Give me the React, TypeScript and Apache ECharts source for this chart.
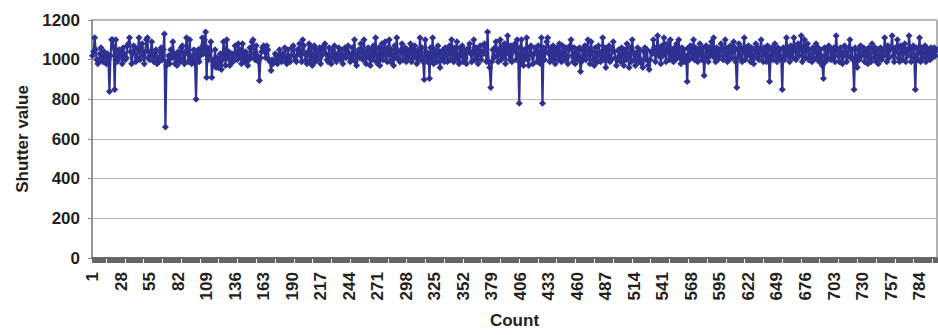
import React, { useEffect, useRef } from "react";
import * as echarts from "echarts";

const yTicks = [0, 200, 400, 600, 800, 1000, 1200];
const categoryCount = 800;
const categories: string[] = Array.from({ length: categoryCount }, (_, i) => String(i + 1));

const shutter1: number[] = [
  1020,1040,1110,1050,1000,980,990,1030,1060,1010,990,1040,1020,980,1030,1000,840,1020,1100,1100,
  1060,850,1100,990,1000,1050,1020,1040,980,1060,1030,1000,1010,1070,1080,1110,1040,980,1030,1070,
  1060,990,1010,1050,1110,1000,1060,1080,1020,980,1040,1100,1110,1010,1000,1040,1090,1020,990,1030,
  1050,980,1010,990,1040,1060,1000,1050,1130,660,970,990,1020,980,1050,1010,1090,1030,980,1020,
  970,1040,1010,990,1060,1070,1000,980,1040,1110,1030,990,1100,1000,980,1020,1050,990,800,1030,
  1050,990,1020,1060,1110,1030,1100,1140,910,1060,1000,1040,1090,910,1000,970,1050,960,1010,960,
  990,1030,950,1000,1090,1040,970,1100,1010,1040,970,990,1030,990,1020,1070,1030,1000,1080,1020,
  1050,980,1080,1010,990,1040,1020,970,1000,1060,1010,1090,1100,1030,1000,1070,1020,990,895,1010,
  1040,1060,1070,1040,1010,1070,1050,1000,990,945,1000,980,990,1030,1020,980,1010,1050,1000,990,
  1030,1000,1060,990,980,1050,1010,990,1020,1060,1070,1020,1000,990,1050,1040,1080,1020,990,1100,
];
const shutter2: number[] = [
  1070,1030,1000,980,1040,1080,990,1060,970,1020,1070,990,1050,1000,1030,1060,980,1020,1050,1070,
  1080,1030,1000,990,1060,1010,980,1050,1020,1070,1000,990,1030,1060,1010,1000,1050,980,1020,1060,
  1010,1040,1070,1030,990,1000,1060,1020,1100,990,970,1030,1050,1010,1080,1040,1000,1100,1030,980,
  1040,1060,1010,970,1050,1000,1070,1020,1110,990,980,1060,970,1040,1080,1000,1050,1090,1020,990,
  1060,1100,990,1050,1020,970,1070,1010,1110,1040,1000,990,1050,1080,1000,1030,1060,990,1050,1010,
  1040,1080,990,1060,1010,1070,1030,980,1050,1000,1110,1020,1060,990,900,1100,1040,990,1030,905,
  1060,1000,1110,980,1050,1020,990,1070,1040,960,1040,1000,1050,990,1060,1020,990,1050,1070,1000,
  1100,1030,990,1060,1010,1090,1000,980,1060,1020,1070,990,1050,1010,980,1040,1060,1080,1030,990,
  1040,1100,1000,1060,1020,980,1050,1070,1000,1040,1030,1080,1060,990,1140,990,960,860,990,1050,
  1010,1060,1090,1020,990,1050,1100,1000,1060,1020,1080,980,1040,1120,1030,1000,1070,990,1040,1060,
];
const shutter3: number[] = [
  1080,1000,1100,1020,780,1060,1100,990,970,1050,1010,1110,1000,970,1060,1070,1020,980,1030,1060,
  1040,990,1070,1010,980,1110,780,1060,1000,1040,1090,1110,1030,990,1060,1000,1070,1020,980,1050,
  1060,1000,1080,1020,990,1070,1030,1000,1060,1010,980,1050,1070,1100,1020,990,1060,980,1050,1010,
  1000,1060,940,990,1050,1010,1070,1000,1060,1100,1020,980,1090,1040,1000,970,1060,1020,990,1070,
  1040,990,1020,1110,1000,1060,960,1050,1010,1070,990,1000,1050,1090,1040,1010,970,1000,1050,1020,
  990,1060,1030,970,1050,1000,1080,1020,960,1060,990,1100,1040,1000,970,1030,1060,990,1050,1000,
  980,960,1040,1060,1000,1050,970,950,1000,1040,1030,1100,1060,990,1050,1120,1020,1060,980,1070,
  1020,1110,1040,990,1080,1060,1000,1100,1020,1050,990,1060,1000,1080,1030,1100,1010,980,1060,1000,
  1050,990,1020,890,1060,1000,1070,1040,1010,1100,1000,1060,1020,990,1050,1080,1020,1000,1060,920,
  1010,1070,1040,990,1060,1020,1090,1030,1110,1010,990,1060,1000,1050,1020,1080,1060,1000,1050,1100,
];
const shutter4: number[] = [
  1020,990,1060,1000,1070,1040,1010,1090,1060,990,860,1050,1080,1010,1060,990,1050,1110,1000,1060,
  1020,1070,1040,990,1060,1010,980,1050,1080,1010,1060,1000,1050,1100,1020,990,1060,1040,990,1070,
  1050,890,1010,1060,1000,1050,1080,1020,990,1060,1000,1050,1010,850,1060,1000,1050,1110,1020,1060,
  990,1070,1040,1010,1110,1060,1000,1050,1080,1020,1060,1120,990,1050,1100,1010,1060,1080,1000,1050,
  1020,990,1060,1000,1050,1080,1010,1060,990,1050,1020,970,905,1060,990,1050,1010,1070,1060,1000,
  1050,1010,1060,990,1120,1050,1020,990,1060,1040,980,1020,1070,1040,990,1020,1060,1100,1010,1050,
  1000,850,1060,1010,960,1050,1000,1070,1020,1050,1060,990,1030,1050,980,1060,1010,990,1080,1050,
  1010,1060,990,1050,980,1020,1060,1000,1050,1020,1110,1060,990,1070,1010,1050,1060,1120,1020,990,
  1060,1040,1100,1010,990,1070,1050,1000,1060,1080,990,1050,1020,1120,1060,990,1050,1070,1010,850,
  1060,1000,1050,1110,990,1060,1010,1050,1070,990,1060,1020,1050,1000,1060,1010,1050,1060,1020,1050,
];
const shutterValues: number[] = [...shutter1, ...shutter2, ...shutter3, ...shutter4];

const font = "'Liberation Sans', Arial, sans-serif";
const textColor = "#231f20";
const seriesColor = "#2E3192";

export default function App() {
  const ref = useRef<HTMLDivElement>(null);
  useEffect(() => {
    if (!ref.current) return;
    const chart = echarts.init(ref.current, null, { renderer: "svg" });
    chart.setOption({
      animation: false,
      backgroundColor: "#ffffff",
      grid: {
        left: 92,
        right: 1,
        top: 20,
        bottom: 77,
        show: true,
        borderColor: "#666",
        borderWidth: 1,
        outerBoundsMode: "none",
      },
      xAxis: {
        type: "category",
        data: categories,
        name: "Count",
        nameLocation: "middle",
        nameGap: 54,
        nameTextStyle: { fontFamily: font, fontWeight: "bold", fontSize: 17, color: textColor },
        axisLine: { lineStyle: { color: "#555", width: 1.5 } },
        axisTick: { show: true, interval: 0, length: 5, lineStyle: { color: "#666", width: 1 } },
        axisLabel: {
          interval: 26,
          rotate: 90,
          margin: 14,
          fontFamily: font,
          fontWeight: "bold",
          fontSize: 17,
          color: textColor,
        },
        splitLine: { show: false },
      },
      yAxis: {
        type: "value",
        min: yTicks[0],
        max: yTicks[yTicks.length - 1],
        interval: 200,
        name: "Shutter value",
        nameLocation: "middle",
        nameGap: 56,
        nameRotate: 90,
        nameTextStyle: { fontFamily: font, fontWeight: "bold", fontSize: 17, color: textColor },
        axisLine: { show: true, lineStyle: { color: "#888", width: 1.5 } },
        axisTick: { show: true, length: 4, lineStyle: { color: "#888" } },
        axisLabel: {
          fontFamily: font,
          fontWeight: "bold",
          fontSize: 17,
          color: textColor,
          margin: 12,
          formatter: (v: number) => String(v),
        },
        splitLine: { lineStyle: { color: "#bbb", width: 1 } },
      },
      series: [
        {
          type: "line",
          data: shutterValues,
          symbol: "diamond",
          symbolSize: 7,
          showAllSymbol: true,
          itemStyle: { color: seriesColor },
          lineStyle: { color: seriesColor, width: 2.2 },
        },
      ],
    });
    return () => chart.dispose();
  }, []);
  return (
    <div
      ref={ref}
      style={{ position: "fixed", left: 0, top: 0, width: 938, height: 335 }}
    />
  );
}
